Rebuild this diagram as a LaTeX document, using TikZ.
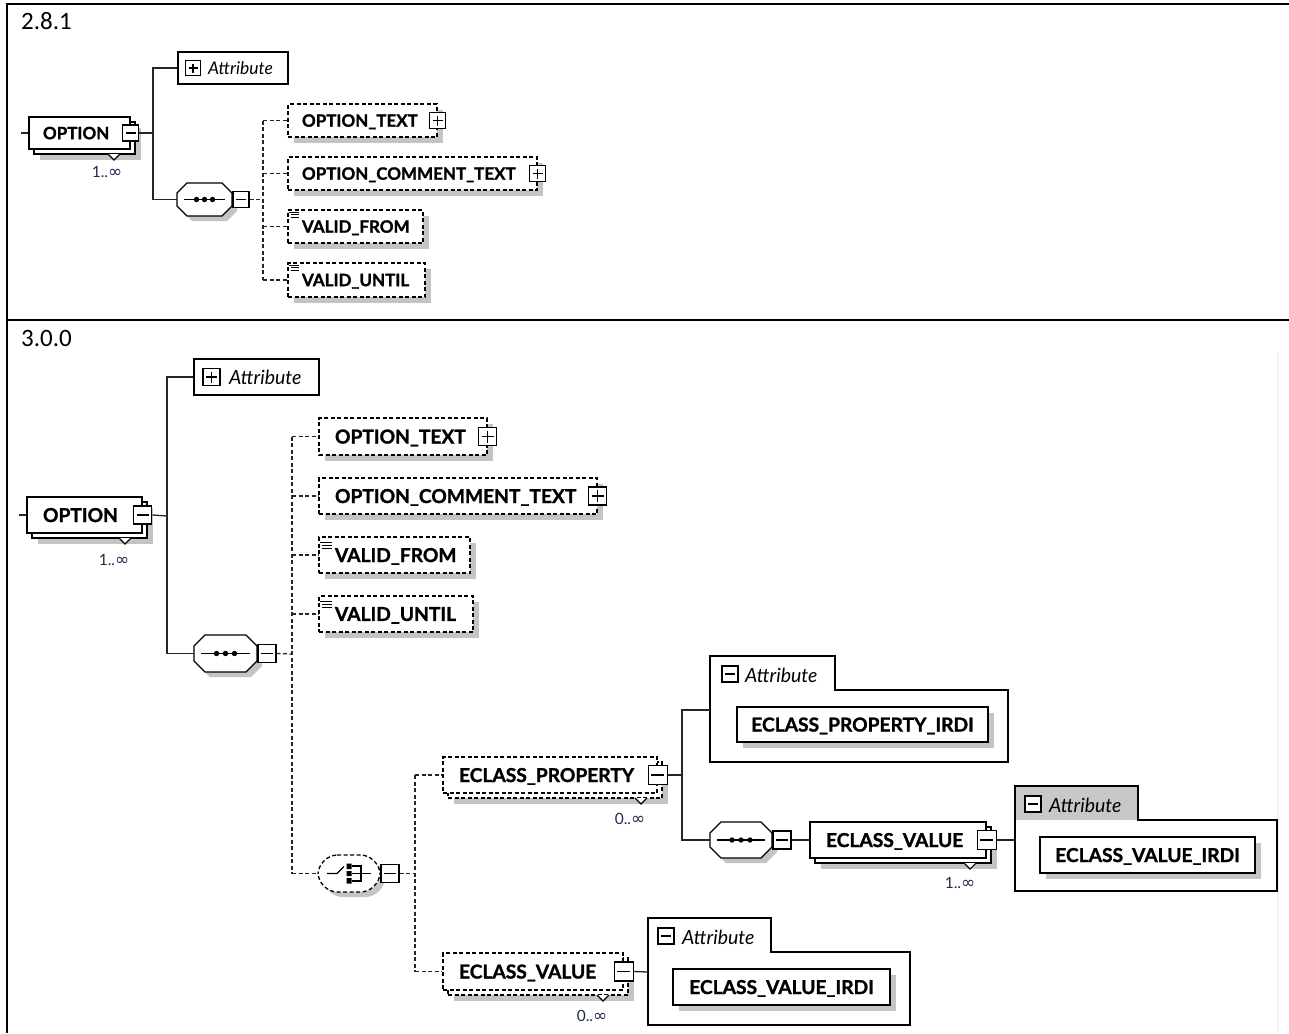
\documentclass[tikz,border=0pt]{standalone}
\usepackage{fontspec}
\setmainfont{Lato}
\newfontfamily\calib{Carlito}
\newfontfamily\djv{DejaVu Sans}
\newfontfamily\hvy{Lato Bold}[FakeBold=1.3]
\usetikzlibrary{shadows,calc}
\definecolor{shd}{HTML}{C4C4C4}
\definecolor{mult}{HTML}{1F2D4D}
\definecolor{tabg}{HTML}{C8C8C8}
\newcommand\tfont{\hvy\fontsize{17}{20}\selectfont}
\newcommand\bfont{\hvy\fontsize{19.2}{22}\selectfont}
\newcommand\inff{{\djv\fontsize{17}{18}\selectfont ∞}}
\newcommand\octp[5]{(#1+#5,#2) -- (#3-#5,#2) -- (#3,#2+#5) -- (#3,#4-#5) -- (#3-#5,#4) -- (#1+#5,#4) -- (#1,#4-#5) -- (#1,#2+#5) -- cycle}
\newcommand\octa[7]{%
  \node[inner sep=0pt,minimum width={#4-#2},minimum height={#5-#3}] (#1) at ({(#2+#4)/2},{(#3+#5)/2}) {};
  \begin{scope}[shift={(5,5)}]\fill[shd] \octp{#2}{#3}{#4}{#5}{#6};\end{scope}
  \draw[line width=1.3pt,fill=white] \octp{#2}{#3}{#4}{#5}{#6};
  \draw[line width=1.2pt] ({#2+7},{(#3+#5)/2}) -- ({#4-7},{(#3+#5)/2});
  \foreach \d in {-1,0,1} \fill ({(#2+#4)/2+\d*#7},{(#3+#5)/2}) circle (2.7pt);
}
\newcommand\notch[2]{\draw[line width=1.1pt,fill=white,solid] (#1-6,#2) -- (#1,#2+6) -- (#1+6,#2);}
\begin{document}
\begin{tikzpicture}[x=1pt,y=-1pt,
  frame/.style={line width=2pt,black},
  conn/.style={line width=1.3pt,black!85},
  dconn/.style={conn,dash pattern=on 4pt off 2.5pt},
  dsh/.style={dash pattern=on 4pt off 2.5pt},
  ebox/.style={draw=black,line width=1.3pt,fill=white,rectangle,inner ysep=0pt,align=left,text depth=0pt},
  shad/.style={general shadow={fill=shd,draw=none,shadow xshift=6pt,shadow yshift=-6pt}},
  stk/.style={general shadow={fill=shd,draw=none,shadow xshift=11pt,shadow yshift=-11pt},copy shadow={shadow xshift=5pt,shadow yshift=-5pt}},
  tb/.style 2 args={ebox,text width=#1pt,minimum height=#2pt,inner xsep=14pt,font=\tfont},
  bb/.style 2 args={ebox,text width=#1pt,minimum height=#2pt,inner xsep=16pt,font=\bfont},
  ib/.style 2 args={ebox,align=center,minimum width=#1pt,minimum height=#2pt,inner xsep=0pt,font=\bfont,shad},
  btn/.style={draw=black,fill=white,solid,line width=1.3pt,rectangle,inner sep=0pt,minimum size=#1pt},
  mbtn/.style={btn=#1,path picture={\draw[line width=1.3pt] ([xshift=3pt]path picture bounding box.west) -- ([xshift=-3pt]path picture bounding box.east);}},
  pbtn/.style={btn=#1,path picture={\draw[line width=1.3pt] ([xshift=3pt]path picture bounding box.west) -- ([xshift=-3pt]path picture bounding box.east) ([yshift=-3pt]path picture bounding box.north) -- ([yshift=3pt]path picture bounding box.south);}},
  mul/.style={inner sep=0pt,text=mult,font=\fontsize{15.5}{17}\selectfont},
  atxt/.style={inner sep=0pt,anchor=west,font=\itshape\fontsize{17.5}{20}\selectfont},
  atxtb/.style={inner sep=0pt,anchor=west,font=\itshape\fontsize{19.5}{22}\selectfont},
  lbl/.style={inner sep=0pt,anchor=base west,font=\calib\fontsize{25}{28}\selectfont}
]
\useasboundingbox (0,0) rectangle (1289,1033);
\fill[white] (0,0) rectangle (1289,1033);
% frame
\draw[frame] (1289,4) -- (7,4) -- (7,1033);
\draw[frame] (7,320) -- (1289,320);
\draw[black!6,line width=1.5pt] (1278,352) -- (1278,1033);
\node[lbl] (v281) at (21,30) {2.8.1};
\node[lbl] (v300) at (21,346) {3.0.0};

% ================= 2.8.1 =================
\node[tb={73}{32},stk] (opt1) at (79.5,133) {OPTION};
\notch{114}{154}
\node[mbtn=16] (opt1b) at (opt1.east) {};
\draw[conn] (opt1.west) -- ++(-7,0);
\node[mul] (opt1m) at (107,172) {1..\inff};
\coordinate (j1) at (153,133);
\node[ebox,minimum width=110pt,minimum height=32pt] (attr1) at (233,68) {};
\node[pbtn=15] (attr1i) at (193,68) {};
\node[atxt] (attr1t) at (208,68.5) {Attribute};
\octa{seq1}{177}{183}{232}{216}{10}{8}
\node[mbtn=16,anchor=west] (seq1b) at (seq1.east) {};
\draw[conn] (opt1b.east) -- (j1);
\draw[conn] (attr1.west) -| (j1) |- (seq1.west);
\coordinate (j2) at (263,199.5);
\draw[dconn] (seq1b.east) -- (j2);
\node[tb={121}{33},dsh,shad] (ot1) at (362.5,120.5) {OPTION\_TEXT};
\node[pbtn=16] (ot1b) at (ot1.east) {};
\node[tb={221}{33},dsh,shad] (oc1) at (412.5,173.5) {OPTION\_COMMENT\_TEXT};
\node[pbtn=16] (oc1b) at (oc1.east) {};
\node[tb={107}{33},dsh,shad] (vf1) at (355.5,226.5) {VALID\_FROM};
\node[tb={109}{34},dsh,shad] (vu1) at (356.5,280) {VALID\_UNTIL};
\draw[line width=0.9pt] (289,212)--(299,212) (291,214.5)--(299,214.5) (291,217)--(299,217);
\draw[line width=0.9pt] (289,265)--(299,265) (291,267.5)--(299,267.5) (291,270)--(299,270);
\draw[dconn] (j2 |- ot1.west) -- (j2 |- vu1.west);
\foreach \n in {ot1,oc1,vf1,vu1} \draw[dconn] (j2 |- \n.west) -- (\n.west);

% ================= 3.0.0 =================
\node[bb={83}{36},stk] (opt2) at (84.5,515) {OPTION};
\notch{125}{538}
\node[mbtn=18] (opt2b) at (opt2.east) {};
\draw[conn] (opt2.west) -- ++(-7,0);
\node[mul] (opt2m) at (114,560) {1..\inff};
\coordinate (j3) at (167,516);
\node[ebox,minimum width=125pt,minimum height=36pt] (attr2) at (256.5,377) {};
\node[pbtn=17] (attr2i) at (211.5,377) {};
\node[atxtb] (attr2t) at (229,377.5) {Attribute};
\octa{seq2}{194}{635}{257}{672}{11}{9}
\node[mbtn=18,anchor=west] (seq2b) at (seq2.east) {};
\draw[conn] (opt2b.east) -- (j3);
\draw[conn] (attr2.west) -| (j3) |- (seq2.west);
\coordinate (j4) at (292,654);
\draw[dconn] (seq2b.east) -- (j4);
\node[bb={136}{37},dsh,shad] (ot2) at (403,436.5) {OPTION\_TEXT};
\node[pbtn=18] (ot2b) at (ot2.east) {};
\node[bb={246}{36},dsh,shad] (oc2) at (458,496) {OPTION\_COMMENT\_TEXT};
\node[pbtn=18] (oc2b) at (oc2.east) {};
\node[bb={119}{36},dsh,shad] (vf2) at (394.5,555) {VALID\_FROM};
\node[bb={122}{36},dsh,shad] (vu2) at (396,614) {VALID\_UNTIL};
\draw[line width=0.9pt] (320,542)--(332,542) (322,545)--(332,545) (322,548)--(332,548);
\draw[line width=0.9pt] (320,601)--(332,601) (322,604)--(332,604) (322,607)--(332,607);
% choice
\node[inner sep=0pt,minimum width=62pt,minimum height=37pt] (ch) at (349,873.5) {};
\begin{scope}[shift={(5,5)}]\fill[shd,rounded corners=7pt] \octp{318}{855}{380}{892}{12};\end{scope}
\draw[line width=1.3pt,fill=white,dsh,rounded corners=7pt] \octp{318}{855}{380}{892}{12};
\draw[line width=1.2pt] (327,873.5) -- (337,873.5) -- (344,866.5);
\fill (346.5,863.5) rectangle (351.5,869) (346.5,871) rectangle (351.5,876) (346.5,878) rectangle (351.5,883.5);
\draw[line width=1.1pt] (352,866) -- (361,866) -- (361,881) -- (352,881) (352,873.5) -- (371,873.5);
\node[mbtn=18,anchor=west] (chb) at (ch.east) {};
\draw[dconn] (j4 |- ot2.west) -- (j4 |- ch.west);
\foreach \n in {ot2,oc2,vf2,vu2,ch} \draw[dconn] (j4 |- \n.west) -- (\n.west);
\coordinate (j5) at (415,873.5);
\draw[dconn] (chb.east) -- (j5);
% ECLASS_PROPERTY
\node[bb={182}{36},dsh,stk] (ep) at (550,775) {ECLASS\_PROPERTY};
\notch{641}{798}
\node[mbtn=19] (epb) at (ep.east) {};
\node[mul] (epm) at (630,819) {0..\inff};
% ECLASS_VALUE (dashed)
\node[bb={148}{37},dsh,stk] (evd) at (533,971.5) {ECLASS\_VALUE};
\notch{603}{995}
\node[mbtn=19] (evdb) at (evd.east) {};
\node[mul] (evdm) at (592,1016) {0..\inff};
\draw[dconn] (j5 |- ep.west) -- (j5 |- evd.west);
\foreach \n in {ep,evd} \draw[dconn] (j5 |- \n.west) -- (\n.west);
% Attribute container 1
\draw[line width=1.3pt] (710,762) -- (710,656) -- (835,656) -- (835,690) -- (1008,690) -- (1008,762) -- cycle;
\coordinate (ac1) at (710,710);
\node[mbtn=16] (ac1i) at (730,674) {};
\node[atxtb] (ac1t) at (745,675) {Attribute};
\node[ib={251}{35}] (irdi1) at (862.5,724.5) {ECLASS\_PROPERTY\_IRDI};
\coordinate (j6) at (682,775);
\draw[conn] (epb.east) -- (j6);
\octa{seq3}{710}{822}{772}{858}{11}{9}
\node[mbtn=18,anchor=west] (seq3b) at (seq3.east) {};
\draw[conn] (ac1) -| (j6) |- (seq3.west);
% ECLASS_VALUE (solid)
\node[bb={144}{36},stk] (evs) at (898,840) {ECLASS\_VALUE};
\notch{970}{863}
\node[mbtn=19] (evsb) at (evs.east) {};
\node[mul] (evsm) at (960,883) {1..\inff};
\draw[conn] (seq3b.east) -- (evs.west);
% Attribute container 2
\fill[tabg] (1015,786) rectangle (1138,820);
\draw[line width=1.3pt] (1015,891) -- (1015,786) -- (1138,786) -- (1138,820) -- (1277,820) -- (1277,891) -- cycle;
\coordinate (ac2) at (1015,840);
\node[mbtn=16] (ac2i) at (1033,804) {};
\node[atxtb] (ac2t) at (1049,805) {Attribute};
\node[ib={215}{36}] (irdi2) at (1147.5,855) {ECLASS\_VALUE\_IRDI};
\draw[conn] (evsb.east) -- (ac2);
% Attribute container 3
\draw[line width=1.3pt] (648,1025) -- (648,918) -- (771,918) -- (771,952) -- (910,952) -- (910,1025) -- cycle;
\coordinate (ac3) at (648,972);
\node[mbtn=16] (ac3i) at (666,936) {};
\node[atxtb] (ac3t) at (682,937) {Attribute};
\node[ib={217}{36}] (irdi3) at (781.5,987) {ECLASS\_VALUE\_IRDI};
\draw[conn] (evdb.east) -- (ac3);
\end{tikzpicture}
\end{document}
